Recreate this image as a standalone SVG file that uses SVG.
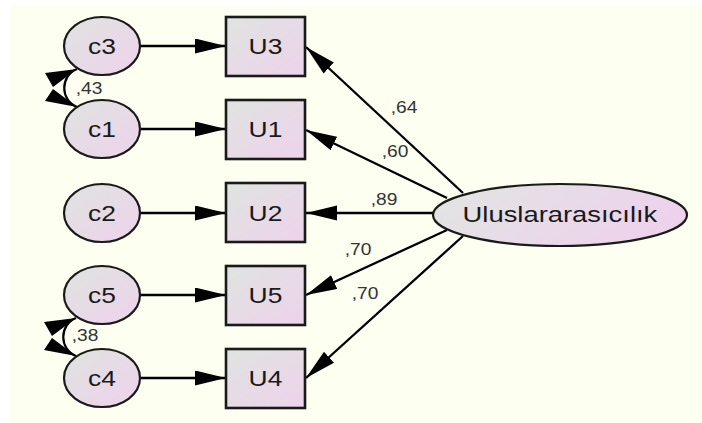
<svg xmlns="http://www.w3.org/2000/svg" width="702" height="423" viewBox="0 0 702 423">
  <defs>
    <linearGradient id="nodeFill" x1="0" y1="0" x2="1" y2="1">
      <stop offset="0" stop-color="#dfe4e0"/>
      <stop offset="1" stop-color="#eed2ec"/>
    </linearGradient>
    <linearGradient id="latentFill" x1="0" y1="0" x2="1" y2="0.3">
      <stop offset="0" stop-color="#e0e6e2"/>
      <stop offset="1" stop-color="#eed2ec"/>
    </linearGradient>
    <marker id="head" markerUnits="userSpaceOnUse" markerWidth="33" markerHeight="16" refX="31" refY="7.5" orient="auto">
      <path d="M0,0 L31,7.5 L0,15 Z" fill="#000"/>
    </marker>
    <style>
      .obs { fill: url(#nodeFill); stroke: #1a1a1a; stroke-width: 2.6; }
      .err { fill: url(#nodeFill); stroke: #1a1a1a; stroke-width: 2.2; }
      .lat { fill: url(#latentFill); stroke: #1a1a1a; stroke-width: 2.2; }
      .lbl { font-family: "Liberation Sans", Arial, sans-serif; font-size: 22px; fill: #1a1a1a; text-anchor: middle;
             transform-box: fill-box; transform-origin: center; transform: scaleX(1.2); }
      .coef { font-family: "Liberation Sans", Arial, sans-serif; font-size: 16px; fill: #333; text-anchor: middle;
              transform-box: fill-box; transform-origin: center; transform: scaleX(1.2); }
      .path { stroke: #000; stroke-width: 2.3; fill: none; marker-end: url(#head); }
      .cov { stroke: #000; stroke-width: 2.2; fill: none; }
    </style>
  </defs>

  <!-- canvas -->
  <rect x="0" y="0" width="702" height="423" fill="#ffffff"/>
  <rect x="9" y="5" width="693" height="418" fill="#fdfff0"/>

  <!-- connectors -->
  <g id="connectors">
    <!-- error terms to indicators -->
    <line class="path" x1="140" y1="46" x2="226" y2="46"/>
    <line class="path" x1="140" y1="129" x2="226" y2="129"/>
    <line class="path" x1="140" y1="213" x2="226" y2="213"/>
    <line class="path" x1="140" y1="295" x2="226" y2="295"/>
    <line class="path" x1="140" y1="378" x2="226" y2="378"/>
    <!-- factor loadings -->
    <line class="path" x1="463" y1="193" x2="306" y2="47"/>
    <line class="path" x1="447" y1="198" x2="306" y2="130"/>
    <line class="path" x1="433" y1="213" x2="306" y2="213"/>
    <line class="path" x1="447" y1="230" x2="306" y2="295"/>
    <line class="path" x1="463" y1="236" x2="306" y2="378"/>
    <text class="coef" x="404" y="113">,64</text>
    <text class="coef" x="395" y="157">,60</text>
    <text class="coef" x="384" y="205">,89</text>
    <text class="coef" x="358" y="255">,70</text>
    <text class="coef" x="365" y="299">,70</text>
    <!-- covariance c3 <-> c1 -->
    <g id="cov-c3-c1">
      <path class="cov" d="M77,69 C60,76 60,100 77,107"/>
      <polygon points="77,69 45,73 53,87" fill="#000"/>
      <polygon points="77,107 45,101 53,89" fill="#000"/>
      <text class="coef" x="89" y="94">,43</text>
    </g>
    <!-- covariance c5 <-> c4 -->
    <g id="cov-c5-c4" transform="translate(-1 249)">
      <path class="cov" d="M77,69 C60,76 60,100 77,107"/>
      <polygon points="77,69 45,73 53,87" fill="#000"/>
      <polygon points="77,107 45,101 53,89" fill="#000"/>
      <text class="coef" x="86" y="92">,38</text>
    </g>
  </g>

  <!-- error terms -->
  <g id="c3"><ellipse class="err" cx="102" cy="46" rx="38" ry="29"/><text class="lbl" x="102" y="54">c3</text></g>
  <g id="c1"><ellipse class="err" cx="102" cy="129" rx="38" ry="29"/><text class="lbl" x="102" y="137">c1</text></g>
  <g id="c2"><ellipse class="err" cx="102" cy="213" rx="38" ry="29"/><text class="lbl" x="102" y="221">c2</text></g>
  <g id="c5"><ellipse class="err" cx="102" cy="295" rx="38" ry="29"/><text class="lbl" x="102" y="303">c5</text></g>
  <g id="c4"><ellipse class="err" cx="102" cy="378" rx="38" ry="29"/><text class="lbl" x="102" y="386">c4</text></g>

  <!-- observed indicators -->
  <g id="U3"><rect class="obs" x="226" y="17" width="79" height="59"/><text class="lbl" x="265.5" y="54">U3</text></g>
  <g id="U1"><rect class="obs" x="226" y="100" width="79" height="59"/><text class="lbl" x="265.5" y="137">U1</text></g>
  <g id="U2"><rect class="obs" x="226" y="183" width="79" height="59"/><text class="lbl" x="265.5" y="221">U2</text></g>
  <g id="U5"><rect class="obs" x="226" y="266" width="79" height="59"/><text class="lbl" x="265.5" y="303">U5</text></g>
  <g id="U4"><rect class="obs" x="226" y="349" width="79" height="59"/><text class="lbl" x="265.5" y="386">U4</text></g>

  <!-- latent factor -->
  <g id="Uluslararasicilik">
    <ellipse class="lat" cx="560" cy="215" rx="127" ry="31"/>
    <text class="lbl" x="560" y="222" style="transform: scaleX(1.245)">Uluslararasıcılık</text>
  </g>
</svg>
